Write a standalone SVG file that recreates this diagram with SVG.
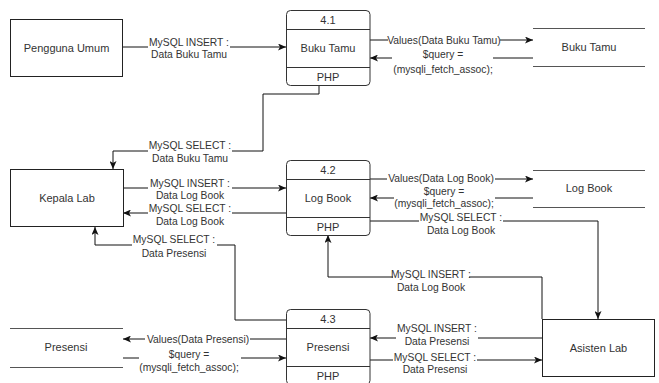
<svg xmlns="http://www.w3.org/2000/svg" width="659" height="383" viewBox="0 0 659 383">
<defs>
<style>
text{font-family:"Liberation Sans",Arial,Helvetica,sans-serif;fill:#333;text-anchor:middle}
.n{font-size:11px}
.e{font-size:10.3px}
.box{fill:#fff;stroke:#222;stroke-width:1}
.proc{fill:#fff;stroke:#333;stroke-width:1}
.div{stroke:#333;stroke-width:1}
.store{stroke:#555;stroke-width:1.2}
.c{fill:none;stroke:#111;stroke-width:1;marker-end:url(#arr)}
.bg{fill:#fff}
</style>
<marker id="arr" viewBox="0 0 8 7" refX="8" refY="3.5" markerWidth="8" markerHeight="7" orient="auto" markerUnits="userSpaceOnUse">
<path d="M0,0 L8,3.5 L0,7 L2,3.5 Z" fill="#111"/>
</marker>
</defs>

<g id="connectors">
<path class="c" d="M122.5 47 H286"/>
<path class="c" d="M370 40 H533"/>
<path class="c" d="M533 58 H370"/>
<path class="c" d="M319 85 V94 H263 V151 H113 V169"/>
<path class="c" d="M123 188 H286"/>
<path class="c" d="M286 213 H123"/>
<path class="c" d="M286 320 H235 V245 H95 V227"/>
<path class="c" d="M370 179 H533"/>
<path class="c" d="M533 198 H370"/>
<path class="c" d="M370 221 H598 V319"/>
<path class="c" d="M542 319 V277 H328 V235"/>
<path class="c" d="M542 338 H370"/>
<path class="c" d="M370 360 H542"/>
<path class="c" d="M286 339 H123"/>
<path class="c" d="M123 358 H286"/>

<g id="labels">
<rect class="bg" x="148" y="36" width="82" height="24"/>
<text class="e" x="189" y="45.5">MySQL INSERT :</text>
<text class="e" x="189" y="58">Data Buku Tamu</text>

<rect class="bg" x="388" y="34" width="112" height="12"/>
<text class="e" x="444" y="43.5">Values(Data Buku Tamu)</text>

<rect class="bg" x="392" y="48" width="101" height="27"/>
<text class="e" x="443" y="57.5">$query =</text>
<text class="e" x="443" y="73">(mysqli_fetch_assoc);</text>

<rect class="bg" x="148" y="139" width="84" height="25"/>
<text class="e" x="190" y="148.5">MySQL SELECT :</text>
<text class="e" x="190" y="161.5">Data Buku Tamu</text>

<rect class="bg" x="148" y="177" width="84" height="24"/>
<text class="e" x="190" y="186.5">MySQL INSERT :</text>
<text class="e" x="190" y="198.5">Data Log Book</text>

<rect class="bg" x="148" y="202" width="84" height="25"/>
<text class="e" x="190" y="211.5">MySQL SELECT :</text>
<text class="e" x="190" y="224.5">Data Log Book</text>

<rect class="bg" x="132" y="233" width="85" height="25"/>
<text class="e" x="174" y="242.5">MySQL SELECT :</text>
<text class="e" x="174" y="256.5">Data Presensi</text>

<rect class="bg" x="387" y="172" width="108" height="12"/>
<text class="e" x="441" y="181.5">Values(Data Log Book)</text>

<rect class="bg" x="394" y="185" width="101" height="24"/>
<text class="e" x="444" y="194.5">$query =</text>
<text class="e" x="444" y="206.5">(mysqli_fetch_assoc);</text>

<rect class="bg" x="419" y="211" width="84" height="25"/>
<text class="e" x="461" y="220.5">MySQL SELECT :</text>
<text class="e" x="461" y="233.5">Data Log Book</text>

<rect class="bg" x="393" y="268" width="76" height="25"/>
<text class="e" x="431" y="277.5">MySQL INSERT :</text>
<text class="e" x="431" y="290.5">Data Log Book</text>

<rect class="bg" x="396" y="322" width="82" height="25"/>
<text class="e" x="437" y="331.5">MySQL INSERT :</text>
<text class="e" x="437" y="344.5">Data Presensi</text>

<rect class="bg" x="393" y="351" width="84" height="25"/>
<text class="e" x="435" y="360.5">MySQL SELECT :</text>
<text class="e" x="435" y="372.5">Data Presensi</text>

<rect class="bg" x="145" y="333" width="105" height="12"/>
<text class="e" x="198" y="342.5">Values(Data Presensi)</text>

<rect class="bg" x="139" y="348" width="102" height="25"/>
<text class="e" x="189" y="357.5">$query =</text>
<text class="e" x="189" y="370.5">(mysqli_fetch_assoc);</text>
</g>
</g>

<g id="pengguna-umum">
<rect class="box" x="10.5" y="19.5" width="112" height="57"/>
<text class="n" x="66.5" y="52">Pengguna Umum</text>
</g>

<g id="kepala-lab">
<rect class="box" x="10.5" y="169.5" width="113" height="57"/>
<text class="n" x="67" y="202">Kepala Lab</text>
</g>

<g id="asisten-lab">
<rect class="box" x="542.5" y="319.5" width="112" height="57"/>
<text class="n" x="598.5" y="352">Asisten Lab</text>
</g>

<g id="proc-4-1">
<rect class="proc" x="286.5" y="10.5" width="83.5" height="75" rx="4"/>
<line class="div" x1="286.5" y1="29.5" x2="370" y2="29.5"/>
<line class="div" x1="286.5" y1="67.5" x2="370" y2="67.5"/>
<text class="n" x="328" y="24">4.1</text>
<text class="n" x="328" y="52">Buku Tamu</text>
<text class="n" x="328" y="80.5">PHP</text>
</g>

<g id="proc-4-2">
<rect class="proc" x="286.5" y="160.5" width="83.5" height="75" rx="4"/>
<line class="div" x1="286.5" y1="179.5" x2="370" y2="179.5"/>
<line class="div" x1="286.5" y1="217.5" x2="370" y2="217.5"/>
<text class="n" x="328" y="174">4.2</text>
<text class="n" x="328" y="202">Log Book</text>
<text class="n" x="328" y="230.5">PHP</text>
</g>

<g id="proc-4-3">
<rect class="proc" x="286.5" y="309.5" width="83.5" height="75" rx="4"/>
<line class="div" x1="286.5" y1="328.5" x2="370" y2="328.5"/>
<line class="div" x1="286.5" y1="366.5" x2="370" y2="366.5"/>
<text class="n" x="328" y="323">4.3</text>
<text class="n" x="328" y="351">Presensi</text>
<text class="n" x="328" y="379.5">PHP</text>
</g>

<g id="store-buku-tamu">
<line class="store" x1="533" y1="28.5" x2="645" y2="28.5"/>
<line class="store" x1="533" y1="66.5" x2="645" y2="66.5"/>
<text class="n" x="589" y="51">Buku Tamu</text>
</g>

<g id="store-log-book">
<line class="store" x1="533" y1="170.5" x2="645" y2="170.5"/>
<line class="store" x1="533" y1="207.5" x2="645" y2="207.5"/>
<text class="n" x="589" y="192">Log Book</text>
</g>

<g id="store-presensi">
<line class="store" x1="10" y1="328.5" x2="123" y2="328.5"/>
<line class="store" x1="10" y1="367.5" x2="123" y2="367.5"/>
<text class="n" x="66" y="351">Presensi</text>
</g>
</svg>
